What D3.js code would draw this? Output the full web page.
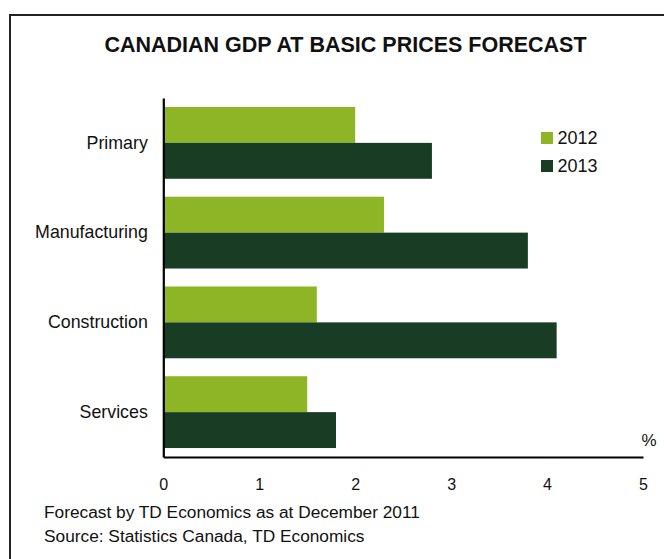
<!DOCTYPE html>
<html>
<head>
<meta charset="utf-8">
<script src="https://cdn.jsdelivr.net/npm/d3@7"></script>
<style>
  html, body { margin: 0; padding: 0; background: #fff; }
  svg { display: block; font-family: "Liberation Sans", Arial, sans-serif; }
</style>
</head>
<body>
<svg id="chart" width="664" height="559"></svg>
<script>
const categories = ["Primary", "Manufacturing", "Construction", "Services"];
const seriesNames = ["2012", "2013"];
const values2012 = [2.0, 2.3, 1.6, 1.5];
const values2013 = [2.8, 3.8, 4.1, 1.8];
const xTicks = [0, 1, 2, 3, 4, 5];
const colors = ["#8db526", "#183d24"];
const titleText = "CANADIAN GDP AT BASIC PRICES FORECAST";
const notes = ["Forecast by TD Economics as at December 2011", "Source: Statistics Canada, TD Economics"];

const svg = d3.select("#chart");
const FONT = "'Liberation Sans', Arial, sans-serif";

// frame
svg.append("rect")
  .attr("x", 10).attr("y", 15).attr("width", 700).attr("height", 600)
  .attr("fill", "none").attr("stroke", "#222").attr("stroke-width", 2);

// title
svg.append("text")
  .attr("x", 345.5).attr("y", 52)
  .attr("text-anchor", "middle")
  .attr("font-weight", "bold").attr("font-size", 21.5)
  .attr("fill", "#111")
  .text(titleText);

const x = d3.scaleLinear().domain([0, 5]).range([163.3, 643]);
const y = d3.scaleBand().domain(categories).range([98, 457]).paddingInner(0.2).paddingOuter(0.1);
const ySub = d3.scaleBand().domain(seriesNames).range([0, y.bandwidth()]);

const data = categories.map((c, i) => ({ cat: c, vals: [values2012[i], values2013[i]] }));

const groups = svg.append("g").selectAll("g").data(data).join("g")
  .attr("transform", d => `translate(0,${y(d.cat)})`);

groups.selectAll("rect").data(d => d.vals.map((v, j) => ({ v, s: seriesNames[j], j }))).join("rect")
  .attr("x", x(0))
  .attr("y", d => ySub(d.s))
  .attr("width", d => x(d.v) - x(0))
  .attr("height", ySub.bandwidth())
  .attr("fill", d => colors[d.j]);

// x axis
const xAxis = svg.append("g")
  .attr("transform", "translate(0,457)")
  .call(d3.axisBottom(x).tickValues(xTicks).tickFormat(d3.format("d")).tickSize(0).tickSizeOuter(0).tickPadding(21.5));
xAxis.select(".domain").attr("stroke", "#000").attr("stroke-width", 2.2);
xAxis.selectAll("text").attr("font-size", 16).attr("fill", "#111").attr("font-family", FONT);

// y axis
const yAxis = svg.append("g")
  .attr("transform", `translate(${x(0)},0)`)
  .call(d3.axisLeft(y).tickSize(0).tickSizeOuter(0).tickPadding(15.5));
yAxis.select(".domain").attr("stroke", "#000").attr("stroke-width", 2.2);
yAxis.selectAll("text").attr("font-size", 17.8).attr("fill", "#111").attr("font-family", FONT);

// % unit
svg.append("text")
  .attr("x", 649).attr("y", 446)
  .attr("text-anchor", "middle")
  .attr("font-size", 17).attr("fill", "#111")
  .text("%");

// legend
const legend = svg.append("g").selectAll("g").data(seriesNames).join("g")
  .attr("transform", (d, i) => `translate(541,${132 + i * 28})`);
legend.append("rect").attr("width", 12).attr("height", 12).attr("fill", (d, i) => colors[i]);
legend.append("text").attr("x", 16.5).attr("y", 12.3)
  .attr("font-size", 18).attr("fill", "#111").text(d => d);

// notes
svg.append("g").selectAll("text").data(notes).join("text")
  .attr("x", 44).attr("y", (d, i) => 518 + i * 23.5)
  .attr("font-size", 17.3).attr("fill", "#111")
  .text(d => d);
</script>
</body>
</html>
